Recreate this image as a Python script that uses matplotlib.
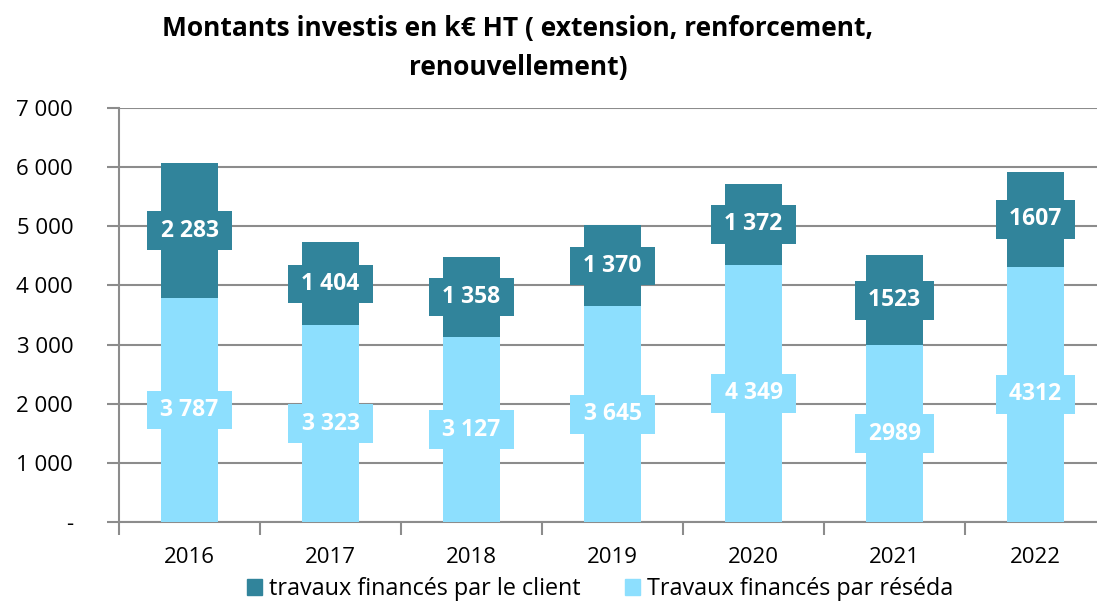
import matplotlib.pyplot as plt
from matplotlib.patches import Patch

plt.rcParams['font.family'] = ['Open Sans', 'DejaVu Sans']

years = ['2016', '2017', '2018', '2019', '2020', '2021', '2022']
reseda = [3787, 3323, 3127, 3645, 4349, 2989, 4312]
client = [2283, 1404, 1358, 1370, 1372, 1523, 1607]
reseda_labels = ['3 787', '3 323', '3 127', '3 645', '4 349', '2989', '4312']
client_labels = ['2 283', '1 404', '1 358', '1 370', '1 372', '1523', '1607']
yticks = [0, 1000, 2000, 3000, 4000, 5000, 6000, 7000]
ytick_labels = ['-', '1 000', '2 000', '3 000', '4 000', '5 000', '6 000', '7 000']

dark = '#31849B'
light = '#8DDFFE'
grey = '#8C8C8C'

fig = plt.figure(figsize=(10.97, 6.06), dpi=100)
ax = fig.add_axes([0.1085, 0.1386, 0.8997, 0.6832])

x = list(range(len(years)))
ax.bar(x, reseda, width=0.4, color=light, zorder=3)
ax.bar(x, client, width=0.4, bottom=reseda, color=dark, zorder=3)

# spaces around the numbers widen the label boxes like in the original
for i in x:
    ax.text(i, reseda[i] / 2, f' {reseda_labels[i]} ', ha='center', va='center',
            color='white', fontsize=16.5, fontweight='bold', zorder=4,
            bbox=dict(boxstyle='square,pad=0.32', fc=light, ec='none'))
    ax.text(i, reseda[i] + client[i] / 2, f' {client_labels[i]} ', ha='center', va='center',
            color='white', fontsize=16.5, fontweight='bold', zorder=4,
            bbox=dict(boxstyle='square,pad=0.32', fc=dark, ec='none'))

ax.set_xlim(-0.5, len(years) - 0.5)
ax.set_ylim(0, 7000)
ax.set_yticks(yticks)
ax.set_yticklabels(ytick_labels, fontsize=16)
ax.yaxis.grid(True, color=grey, linewidth=1.5, zorder=0)
ax.set_xticks(x)
ax.set_xticklabels(years, fontsize=16)
ax.set_xticks([i + 0.5 for i in x[:-1]] + [-0.5], minor=True)
ax.tick_params(axis='x', which='major', length=0, pad=18)
ax.tick_params(axis='x', which='minor', length=9, width=1.5, color=grey, direction='out')
ax.tick_params(axis='y', length=9, width=1.5, color=grey, pad=24)
for s in ['top', 'right']:
    ax.spines[s].set_visible(False)
for s in ['left', 'bottom']:
    ax.spines[s].set_color(grey)
    ax.spines[s].set_linewidth(1.5)

fig.text(0.472, 0.975, 'Montants investis en k€ HT ( extension, renforcement,\nrenouvellement)',
         ha='center', va='top', fontsize=19, fontweight='bold', linespacing=1.55)

handles = [Patch(color=dark, label='travaux financés par le client'),
           Patch(color=light, label='Travaux financés par réséda')]
fig.legend(handles=handles, loc='lower center', bbox_to_anchor=(0.547, -0.027), ncol=2,
           frameon=False, fontsize=16.8, handlelength=0.65, handleheight=0.65,
           handletextpad=0.3, columnspacing=1.9)

fig.savefig('out.png', dpi=100)
